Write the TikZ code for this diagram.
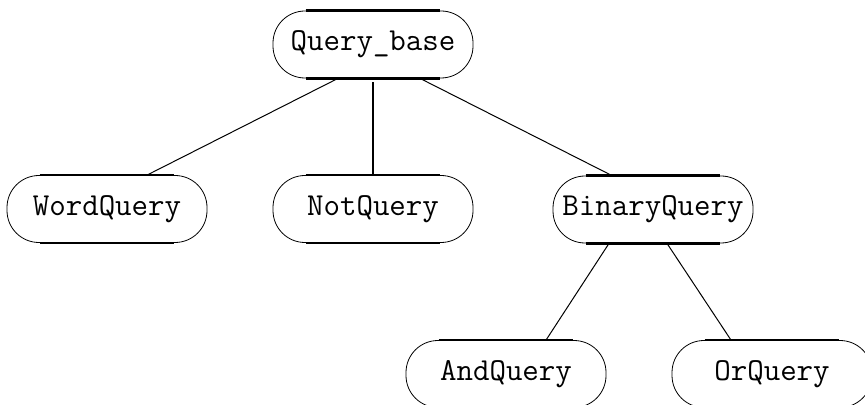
\documentclass[tikz,border=0pt]{standalone}
\usetikzlibrary{positioning}

\tikzset{
  cls/.style={draw, line width=0.4pt, rounded corners=16pt, minimum width=100pt,
    minimum height=33.5pt, inner sep=0pt, font=\ttfamily\fontsize{16}{18}\selectfont},
  edge/.style={line width=0.5pt},
}

\begin{document}
\begin{tikzpicture}[x=1pt,y=1pt]
    \useasboundingbox (0,0) rectangle (432.5,-202.5);

    \node[cls] (qb) at (186.5, -22.25) {Query\_base};

    \node[cls] (wq) at (53.5, -104.5) {WordQuery};
    \node[cls] (nq) at (186.5, -104.5) {NotQuery};
    \node[cls] (bq) at (326.5, -104.75) {BinaryQuery};

    \node[cls] (aq) at (253, -187) {AndQuery};
    \node[cls] (oq) at (386, -187) {OrQuery};

    % heavier top and bottom edges
    \foreach \n in {qb,wq,nq,bq,aq,oq} {
      \draw[line width=1.3pt] ([xshift=16.5pt]\n.north west) -- ([xshift=-16.5pt]\n.north east);
      \draw[line width=1.3pt] ([xshift=16.5pt]\n.south west) -- ([xshift=-16.5pt]\n.south east);
    }

    \draw[edge] ([xshift=-17.5pt]qb.south) to ([xshift=20pt]wq.north) ;
    \draw[line width=1pt] ([yshift=-2pt]qb.south) to (nq.north) ;
    \draw[edge] ([xshift=23.5pt]qb.south) to ([xshift=-20.5pt]bq.north) ;
    \draw[edge] ([xshift=-22pt]bq.south) to ([xshift=20pt]aq.north) ;
    \draw[edge] ([xshift=7pt]bq.south) to ([xshift=-20.5pt]oq.north) ;

\end{tikzpicture}
\end{document}
